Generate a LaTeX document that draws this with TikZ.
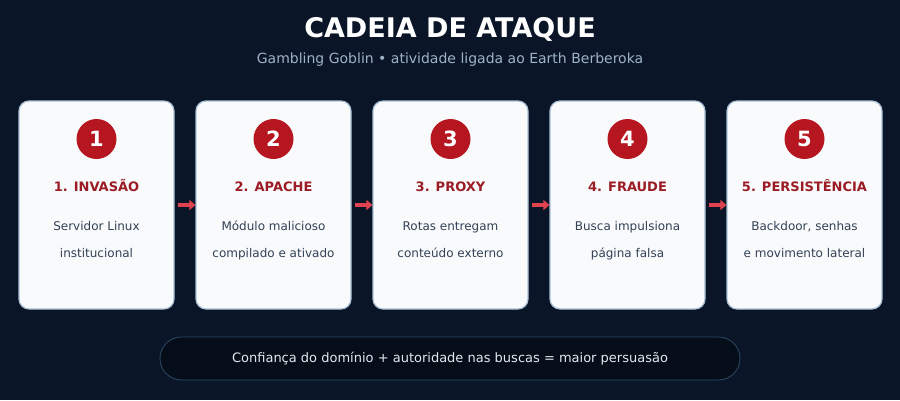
\documentclass[tikz,border=0pt]{standalone}
\usepackage{fontspec}
\setmainfont{DejaVu Sans}
\usetikzlibrary{arrows.meta}
\definecolor{bg}{HTML}{0A1628}
\definecolor{cardfill}{HTML}{F8FAFC}
\definecolor{cardline}{HTML}{A9C0D6}
\definecolor{badge}{HTML}{B5161F}
\definecolor{ttl}{HTML}{9B1C24}
\definecolor{desc}{HTML}{334155}
\definecolor{sub}{HTML}{9FB2C8}
\definecolor{arrowred}{HTML}{E0434F}
\definecolor{pillfill}{HTML}{050D18}
\definecolor{pillline}{HTML}{2C4A66}
\definecolor{pilltext}{HTML}{E2E8F0}
\begin{document}
\begin{tikzpicture}[x=1pt,y=-1pt,
  card/.style={draw=cardline, line width=1.2pt, fill=cardfill, rounded corners=10pt, minimum width=155pt, minimum height=208pt, inner sep=0pt},
  badgenode/.style={circle, fill=badge, minimum size=40pt, inner sep=0pt, text=white, font=\bfseries\fontsize{21}{24}\selectfont},
  cardtitle/.style={anchor=base, text=ttl, font=\bfseries\fontsize{13}{15}\selectfont},
  cardtext/.style={anchor=base, text=desc, font=\fontsize{12}{14}\selectfont},
  flow/.style={arrowred, line width=3.5pt, -{Triangle[length=6pt,width=10pt]}, shorten <=3pt}
]
\fill[bg] (0,0) rectangle (900,400);
\useasboundingbox (0,0) rectangle (900,400);

\node[anchor=base, text=white, font=\bfseries\fontsize{27}{31}\selectfont] (title) at (450,37) {CADEIA DE ATAQUE};
\node[anchor=base, text=sub, font=\fontsize{14}{16}\selectfont] (subtitle) at (450,63) {Gambling Goblin • atividade ligada ao Earth Berberoka};

\foreach \i/\cx/\t/\la/\lb in {
  1/96.5/{1. INVASÃO}/{Servidor Linux}/{institucional},
  2/273.5/{2. APACHE}/{Módulo malicioso}/{compilado e ativado},
  3/450.5/{3. PROXY}/{Rotas entregam}/{conteúdo externo},
  4/627.5/{4. FRAUDE}/{Busca impulsiona}/{página falsa},
  5/804.5/{5. PERSISTÊNCIA}/{Backdoor, senhas}/{e movimento lateral}}{
  \node[card] (card\i) at (\cx,205) {};
  \node[badgenode] (badge\i) at (\cx,139) {\i};
  \node[cardtitle] (ttl\i) at (\cx,191.5) {\t};
  \node[cardtext] (da\i) at (\cx,230.5) {\la};
  \node[cardtext] (db\i) at (\cx,257.5) {\lb};
}

\foreach \a/\b in {1/2,2/3,3/4,4/5}{
  \draw[flow] (card\a.east) -- (card\b.west);
}

\node[draw=pillline, line width=0.8pt, fill=pillfill, rounded corners=21.5pt, minimum width=580pt, minimum height=43pt, inner sep=0pt] (pill) at (450,358.5) {};
\node[anchor=base, text=pilltext, font=\fontsize{13}{15}\selectfont] (pilltext) at (450,362.5) {Confiança do domínio + autoridade nas buscas = maior persuasão};
\end{tikzpicture}
\end{document}
